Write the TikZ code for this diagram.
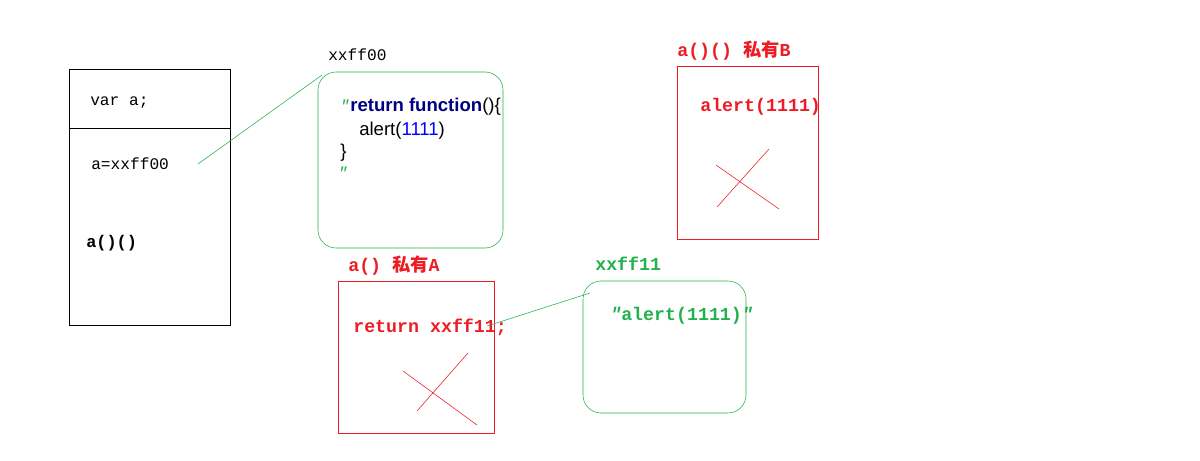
\documentclass[tikz,border=0pt]{standalone}
\usepackage{fontspec}
\setmainfont{Liberation Sans}
\setmonofont{Liberation Mono}
\newfontfamily\cjk{Noto Sans CJK SC}
\usetikzlibrary{positioning}
\definecolor{paintred}{RGB}{237,28,36}
\definecolor{paintgreen}{RGB}{34,177,76}
\definecolor{kwnavy}{RGB}{0,0,128}
\definecolor{numblue}{RGB}{0,0,255}
\tikzset{
  memtext/.style={anchor=west, inner sep=0pt, font=\ttfamily\fontsize{11.5}{13}\selectfont},
  redtext/.style={memtext, text=paintred, font=\ttfamily\bfseries\fontsize{13}{15}\selectfont},
  greentext/.style={memtext, text=paintgreen, font=\ttfamily\bfseries\fontsize{13}{15}\selectfont},
  codetext/.style={anchor=west, inner sep=0pt, font=\fontsize{13.2}{15}\selectfont},
  quotemark/.style={inner sep=0pt, text=paintgreen, font=\itshape\fontsize{14}{15}\selectfont},
  redbox/.style={draw=paintred},
  greenbox/.style={draw=paintgreen, rounded corners=18*0.025cm},
  cross/.style={draw=paintred, line width=0.4pt}
}
\begin{document}
\begin{tikzpicture}[x=0.025cm, y=-0.025cm]
  \useasboundingbox (0,0) rectangle (1200,460);

  % stack of the outer scope
  \draw (69,69) rectangle (230,325);
  \draw (70,128) -- (230,128);
  \node[memtext] (vardecl) at (90,103) {var a;};
  \node[memtext] (assign)  at (91,164) {a=xxff00};
  \node[memtext, font=\ttfamily\bfseries\fontsize{12}{14}\selectfont] (call2) at (86,243) {a()()};

  % function object xxff00
  \node[memtext] (addr0) at (328,55) {xxff00};
  \draw[greenbox] (318,72) rectangle (503,248);
  \node[codetext] (retfn) at (350,107) {\textbf{\textcolor{kwnavy}{return function}}()\{};
  \node[quotemark, left=1pt of retfn] (q1) {″};
  \node[codetext] (alertln) at (359,131) {alert(\textcolor{numblue}{1111})};
  \node[codetext] (brace) at (340,153) {\}};
  \node[quotemark, anchor=west] (q2) at (339,174) {″};
  \coordinate (assignend) at (198,164);
  \coordinate (fnbox) at (322,75);
  \draw[paintgreen] (assignend) -- (fnbox);

  % scope of a()
  \node[redtext] (scopeA) at (348,266) {a() {\cjk\bfseries 私有}A};
  \draw[redbox] (338,281) rectangle (494,433);
  \node[redtext] (retaddr) at (353,327) {return xxff11;};
  \draw[cross] (403,371) -- (477,425);
  \draw[cross] (417,411) -- (468,353);

  % function object xxff11
  \node[greentext] (addr1) at (595,264) {xxff11};
  \draw[greenbox] (583,281) rectangle (746,413);
  \node[greentext] (alertstr) at (610,316) {{\itshape ″}alert(1111){\itshape ″}};
  \coordinate (retend) at (487,326);
  \coordinate (strbox) at (590,293);
  \draw[paintgreen] (retend) -- (strbox);

  % scope of a()()
  \node[redtext] (scopeB) at (677,51) {a()() {\cjk\bfseries 私有}B};
  \draw[redbox] (677,66) rectangle (818,239);
  \node[redtext] (alertB) at (700,107) {alert(1111)};
  \draw[cross] (716,165) -- (779,209);
  \draw[cross] (717,207) -- (769,149);
\end{tikzpicture}
\end{document}
